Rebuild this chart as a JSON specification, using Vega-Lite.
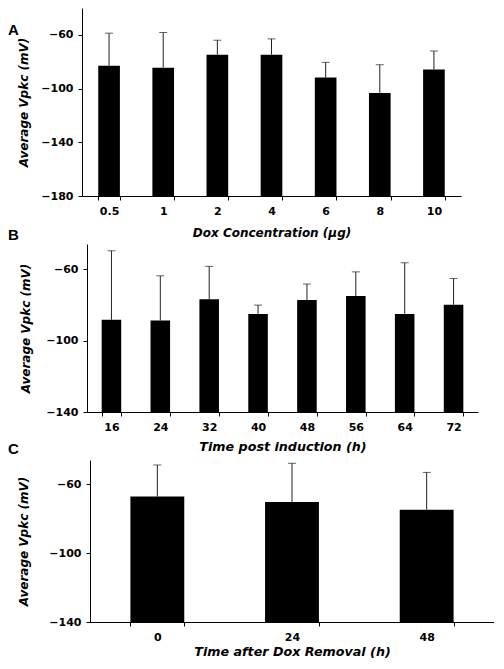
{
  "$schema": "https://vega.github.io/schema/vega-lite/v6.json",
  "padding": {"left": 8, "top": 8, "right": 0, "bottom": 0},
  "bounds": "flush",
  "spacing": 48,
  "datasets": {
    "a": [
      {"dose": "0.5", "mean": -83, "upper": -58.75},
      {"dose": "1", "mean": -84.5, "upper": -58.25},
      {"dose": "2", "mean": -74.75, "upper": -64},
      {"dose": "4", "mean": -74.75, "upper": -63},
      {"dose": "6", "mean": -91.75, "upper": -80.5},
      {"dose": "8", "mean": -103.25, "upper": -82.25},
      {"dose": "10", "mean": -85.75, "upper": -72}
    ],
    "b": [
      {"time": "16", "mean": -88.4, "upper": -49.8},
      {"time": "24", "mean": -88.8, "upper": -63.8},
      {"time": "32", "mean": -76.9, "upper": -58.5},
      {"time": "40", "mean": -85.1, "upper": -80.2},
      {"time": "48", "mean": -77.3, "upper": -68.4},
      {"time": "56", "mean": -75.1, "upper": -61.6},
      {"time": "64", "mean": -85.1, "upper": -56.5},
      {"time": "72", "mean": -80.0, "upper": -65.3}
    ],
    "c": [
      {"time": "0", "mean": -67.2, "upper": -48.9},
      {"time": "24", "mean": -70.3, "upper": -47.9},
      {"time": "48", "mean": -74.8, "upper": -53.2}
    ]
  },
  "vconcat": [
    {
      "title": {"text": "A", "dy": 34},
      "width": 379,
      "height": 188,
      "data": {"name": "a"},
      "encoding": {
        "x": {"field": "dose", "type": "nominal", "sort": null,
              "scale": {"paddingInner": 0.6, "paddingOuter": 0.3},
              "axis": {"labelAngle": 0, "tickBand": "extent", "title": "Dox Concentration (µg)", "titlePadding": 11, "titleFontSize": 12}}
      },
      "layer": [
        {"mark": {"type": "bar", "color": "#000"},
         "encoding": {
           "y": {"field": "mean", "type": "quantitative", "title": "Average Vpkc (mV)",
                 "scale": {"domain": [-180, -40], "nice": false, "zero": false},
                 "axis": {"values": [-60, -100, -140, -180], "titlePadding": 10}},
           "y2": {"datum": -180}}},
        {"mark": {"type": "rule", "color": "#222", "strokeWidth": 1},
         "encoding": {"y": {"field": "mean", "type": "quantitative", "title": "Average Vpkc (mV)"}, "y2": {"field": "upper"}}},
        {"mark": {"type": "tick", "color": "#222", "size": 8, "thickness": 1},
         "encoding": {"y": {"field": "upper", "type": "quantitative", "title": "Average Vpkc (mV)"}}}
      ]
    },
    {
      "title": {"text": "B", "dy": 3},
      "width": 396,
      "height": 168,
      "data": {"name": "b"},
      "encoding": {
        "x": {"field": "time", "type": "nominal", "sort": null,
              "scale": {"paddingInner": 0.6, "paddingOuter": 0.3, "range": [5, 396]},
              "axis": {"labelAngle": 0, "tickBand": "extent", "title": "Time post induction (h)", "titlePadding": 8, "titleFontSize": 12.7}}
      },
      "layer": [
        {"mark": {"type": "bar", "color": "#000"},
         "encoding": {
           "y": {"field": "mean", "type": "quantitative", "title": "Average Vpkc (mV)",
                 "scale": {"domain": [-140, -46], "nice": false, "zero": false},
                 "axis": {"values": [-60, -100, -140], "offset": -5, "titlePadding": 13}},
           "y2": {"datum": -140}}},
        {"mark": {"type": "rule", "color": "#222", "strokeWidth": 1},
         "encoding": {"y": {"field": "mean", "type": "quantitative", "title": "Average Vpkc (mV)"}, "y2": {"field": "upper"}}},
        {"mark": {"type": "tick", "color": "#222", "size": 8, "thickness": 1},
         "encoding": {"y": {"field": "upper", "type": "quantitative", "title": "Average Vpkc (mV)"}}}
      ]
    },
    {
      "title": {"text": "C", "dy": 1},
      "width": 412,
      "height": 162,
      "data": {"name": "c"},
      "encoding": {
        "x": {"field": "time", "type": "nominal", "sort": null,
              "scale": {"paddingInner": 0.6, "paddingOuter": 0.3, "range": [8, 412]},
              "axis": {"labelAngle": 0, "tickBand": "extent", "title": "Time after Dox Removal (h)", "titlePadding": 3, "titleFontSize": 12.7}}
      },
      "layer": [
        {"mark": {"type": "bar", "color": "#000"},
         "encoding": {
           "y": {"field": "mean", "type": "quantitative", "title": "Average Vpkc (mV)",
                 "scale": {"domain": [-140, -46], "nice": false, "zero": false},
                 "axis": {"values": [-60, -100, -140], "offset": -8, "titlePadding": 18}},
           "y2": {"datum": -140}}},
        {"mark": {"type": "rule", "color": "#222", "strokeWidth": 1},
         "encoding": {"y": {"field": "mean", "type": "quantitative", "title": "Average Vpkc (mV)"}, "y2": {"field": "upper"}}},
        {"mark": {"type": "tick", "color": "#222", "size": 8, "thickness": 1},
         "encoding": {"y": {"field": "upper", "type": "quantitative", "title": "Average Vpkc (mV)"}}}
      ]
    }
  ],
  "config": {
    "view": {"stroke": null},
    "axis": {
      "grid": false,
      "labelFont": "DejaVu Sans", "labelFontWeight": "bold", "labelFontSize": 11, "labelColor": "#000",
      "labelPadding": 5,
      "titleFont": "DejaVu Sans", "titleFontWeight": "bold", "titleFontStyle": "italic", "titleFontSize": 12, "titleColor": "#000",
      "domainColor": "#000", "tickColor": "#000", "tickSize": 4
    },
    "title": {
      "anchor": "start", "frame": "group", "dx": -74, "offset": 0, "baseline": "alphabetic",
      "font": "Liberation Sans", "fontSize": 15, "fontWeight": "bold", "color": "#000"
    }
  }
}
